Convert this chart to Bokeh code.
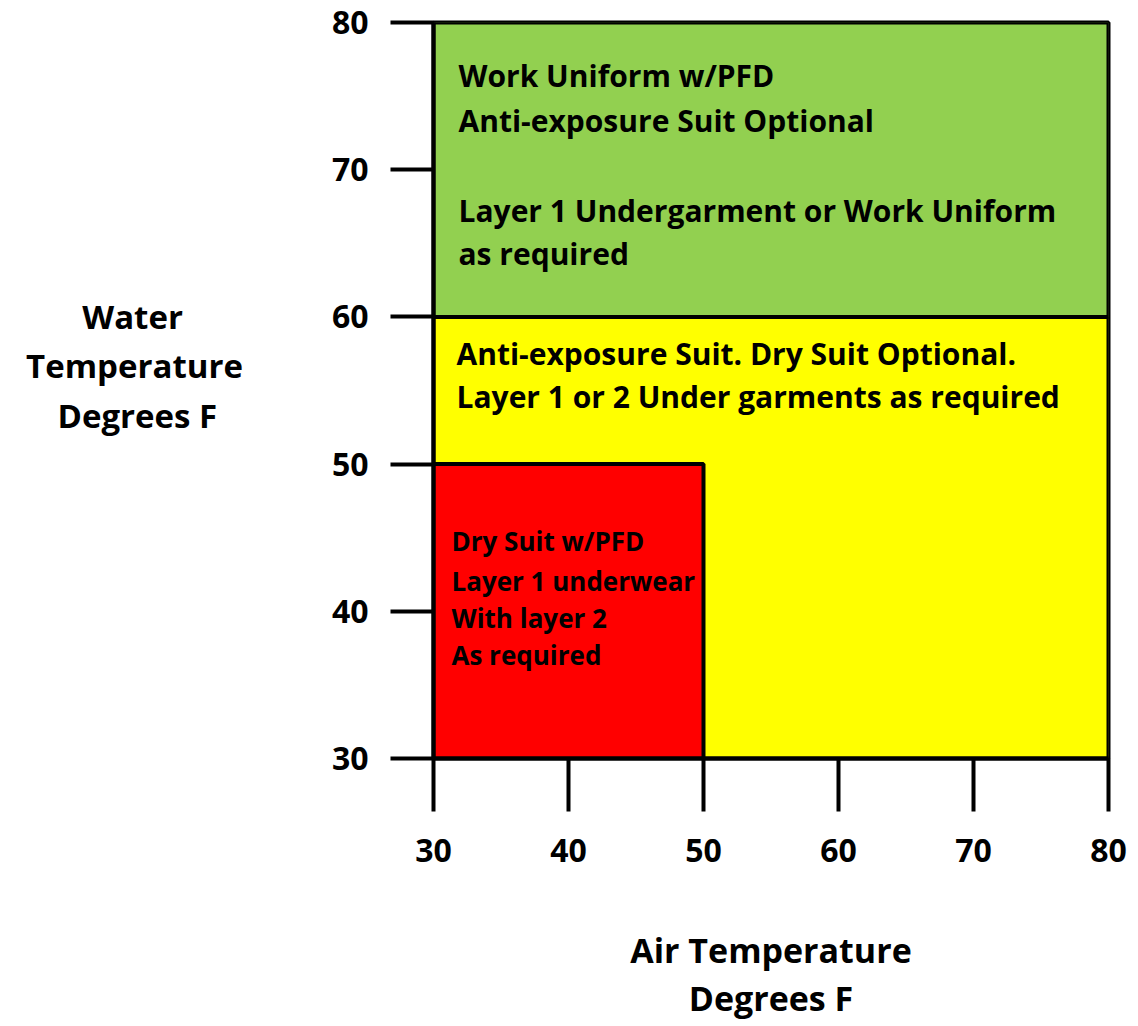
from bokeh.plotting import figure
from bokeh.models import FixedTicker, Label, Range1d
from bokeh.embed import file_html
from bokeh.resources import INLINE

# ---- data ----
x_ticks = [30, 40, 50, 60, 70, 80]
y_ticks = [30, 40, 50, 60, 70, 80]

zone_names = ["yellow", "green", "red"]
zone_left = [30, 30, 30]
zone_right = [80, 80, 50]
zone_bottom = [30, 60, 30]
zone_top = [60, 80, 50]
zone_colors = ["#FFFF00", "#92D050", "#FF0000"]

green_text = ["Work Uniform w/PFD", "Anti-exposure Suit Optional", "",
              "Layer 1 Undergarment or Work Uniform", "as required"]
yellow_text = ["Anti-exposure Suit. Dry Suit Optional.",
               "Layer 1 or 2 Under garments as required"]
red_text = ["Dry Suit w/PFD", "Layer 1 underwear", "With layer 2", "As required"]

y_title = ["Water", "Temperature", "Degrees F"]
x_title = ["Air Temperature", "Degrees F"]

FONT = "Open Sans"
NB = "\u00a0"

# layout (page pixels; figure sits at page origin)
W, H = 1130, 1024
FL, FR, FT, FB = 433, 1108, 22, 758

def dx(px):
    return 30 + (px - FL) / (FR - FL) * 50

def dy(py):
    return 30 + (FB - py) / (FB - FT) * 50

p = figure(width=W, height=H, output_backend="svg", toolbar_location=None,
           x_range=Range1d(30, 80), y_range=Range1d(30, 80),
           min_border_left=FL, min_border_right=W - FR, min_border_top=FT,
           min_border_bottom=H - FB)
p.background_fill_color = "white"
p.border_fill_color = "white"
p.outline_line_color = "black"
p.outline_line_width = 4
p.grid.visible = False

p.quad(left=zone_left, right=zone_right, bottom=zone_bottom, top=zone_top,
       fill_color=zone_colors, line_color="black", line_width=4)

for ax, ticks in ((p.xaxis, x_ticks), (p.yaxis, y_ticks)):
    ax.ticker = FixedTicker(ticks=ticks)
    ax.minor_tick_line_color = None
    ax.major_tick_in = 0
    ax.major_tick_line_width = 4
    ax.major_tick_line_color = "black"
    ax.axis_line_width = 4
    ax.axis_line_color = "black"
    ax.major_label_text_font = FONT
    ax.major_label_text_font_style = "bold"
    ax.major_label_text_font_size = "32px"
    ax.major_label_text_color = "black"
    ax.axis_label_text_font = FONT
    ax.axis_label_text_font_style = "bold"
    ax.axis_label_text_color = "black"

p.yaxis.major_tick_out = 43
p.yaxis.major_label_standoff = 22
p.xaxis.major_tick_out = 53
p.xaxis.major_label_standoff = 27

# y title: right-aligned by Bokeh, so pad shorter lines to centre them
yax = p.yaxis[0]
y_lines = [y_title[0] + NB * 7, y_title[1], y_title[2] + NB * 3, NB]
yax.axis_label = "\n".join(y_lines)
if hasattr(yax, "axis_label_orientation"):
    yax.axis_label_orientation = "horizontal"
yax.axis_label_text_font_size = "33px"
yax.axis_label_text_line_height = 1.1
yax.axis_label_standoff = 86

xax = p.xaxis[0]
xax.axis_label = "\n".join(x_title)
xax.axis_label_text_align = "center"
xax.axis_label_text_font_size = "34px"
xax.axis_label_text_line_height = 1.05
xax.axis_label_standoff = 62

def add_lines(lines, x_px, y_centers, size, align="left"):
    for t, yc in zip(lines, y_centers):
        if not t:
            continue
        p.add_layout(Label(x=dx(x_px), y=dy(yc), text=t, text_font=FONT,
                           text_font_style="bold", text_font_size=size,
                           text_color="black", text_align=align,
                           text_baseline="middle"))

add_lines(green_text, 458, [75, 120, 165, 210, 253], "30px")
add_lines(yellow_text, 456, [353, 396], "30px")
add_lines(red_text, 451, [540, 580, 617, 654], "26px")

open("out.html", "w").write(file_html(p, INLINE))
